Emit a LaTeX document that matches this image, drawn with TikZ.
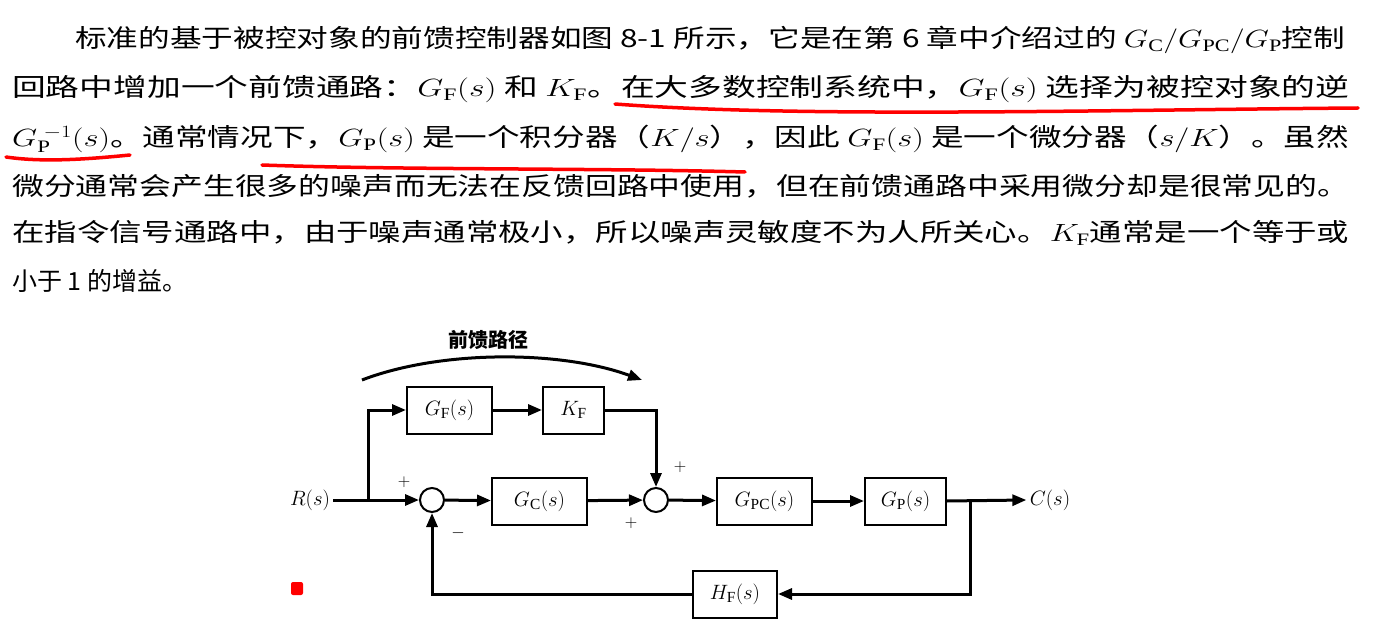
\documentclass[tikz,border=0pt]{standalone}
\usepackage{fontspec}
\setmainfont{Liberation Serif}
\newfontfamily\cjk{Noto Sans CJK SC}
\usepackage{graphicx}
\usetikzlibrary{arrows.meta}
\begin{document}
\begin{tikzpicture}[x=1pt,y=-1pt,
  txt/.style={anchor=west,inner sep=0pt,font=\fontsize{25}{25}\selectfont\cjk},
  blk/.style={draw,line width=2pt,minimum height=47pt,inner sep=0pt,font=\fontsize{22}{22}\selectfont},
  sum/.style={draw,circle,line width=2pt,minimum size=24pt,inner sep=0pt},
  sig/.style={line width=3pt,-{Triangle[length=14pt,width=11pt]}},
  ln/.style={line width=3pt},
  lab/.style={font=\fontsize{22}{22}\selectfont},
  pm/.style={font=\fontsize{16}{16}\selectfont,inner sep=0pt},
  redline/.style={draw=red,line width=3.5pt,line cap=round}]
\useasboundingbox[fill=white] (0,0) rectangle (1382,620);
% text
\node[txt] (l1) at (75,40) {\resizebox{1270pt}{\height}{标准的基于被控对象的前馈控制器如图 8-1 所示，它是在第 6 章中介绍过的 $G_{\mathrm C}/G_{\mathrm{PC}}/G_{\mathrm P}$控制}};
\node[txt] (l2) at (12,89) {\resizebox{1337pt}{\height}{回路中增加一个前馈通路：$G_{\mathrm F}(s)$ 和 $K_{\mathrm F}$。在大多数控制系统中，$G_{\mathrm F}(s)$ 选择为被控对象的逆}};
\node[txt] (l3) at (12,139) {\resizebox{1337pt}{\height}{$G_{\mathrm P}^{\;-1}(s)$。通常情况下，$G_{\mathrm P}(s)$ 是一个积分器（$K/s$），因此 $G_{\mathrm F}(s)$ 是一个微分器（$s/K$）。虽然}};
\node[txt] (l4) at (12,186) {\resizebox{1337pt}{\height}{微分通常会产生很多的噪声而无法在反馈回路中使用，但在前馈通路中采用微分却是很常见的。}};
\node[txt] (l5) at (12,233) {\resizebox{1337pt}{\height}{在指令信号通路中，由于噪声通常极小，所以噪声灵敏度不为人所关心。$K_{\mathrm F}$通常是一个等于或}};
\node[txt] (l6) at (12,281) {小于 1 的增益。};
% red marks
\draw[redline] (615,104) .. controls (800,118) and (1100,110) .. (1358,108);
\draw[redline] (6,157) .. controls (40,162) and (80,160) .. (130,155);
\draw[redline] (262,165) .. controls (400,170) and (600,168) .. (745,172);
\fill[red,rounded corners=2pt] (291,582) rectangle (303,595);
% diagram
\node[lab] (R) at (310,500) {$R(s)$};
\node[lab] (C) at (1050,500) {$C(s)$};
\node[blk,minimum width=85pt] (GF) at (449.5,410) {$G_{\mathrm F}(s)$};
\node[blk,minimum width=61pt] (KF) at (573.5,410) {$K_{\mathrm F}$};
\node[sum] (S1) at (432,500) {};
\node[blk,minimum width=95pt] (GC) at (539.5,501) {$G_{\mathrm C}(s)$};
\node[sum] (S2) at (656,500) {};
\node[blk,minimum width=95pt] (GPC) at (764.5,501) {$G_{\mathrm{PC}}(s)$};
\node[blk,minimum width=81pt] (GP) at (905.5,501) {$G_{\mathrm P}(s)$};
\node[blk,minimum width=84pt] (HF) at (735,594) {$H_{\mathrm F}(s)$};
\coordinate (B) at (368,500);
\coordinate (O) at (970,500);
\draw[ln] (R.east) -- (B);
\draw[sig] (B) -- (S1.west);
\draw[sig] (B) |- (GF.west);
\draw[sig] (GF) -- (KF);
\draw[sig] (KF.east) -| (S2.north);
\draw[sig] (S1) -- (GC);
\draw[sig] (GC) -- (S2);
\draw[sig] (S2) -- (GPC);
\draw[sig] (GPC) -- (GP);
\draw[sig] (GP.east) -- (C.west);
\draw[sig] (O) |- (HF.east);
\draw[sig] (HF.west) -| (S1.south);
\node[pm] (p1) at (404,482) {$+$};
\node[pm] (m1) at (458,533) {$-$};
\node[pm] (p2) at (680,467) {$+$};
\node[pm] (p3) at (631,523) {$+$};
\coordinate (a1) at (362,380);
\coordinate (a2) at (642,380);
\draw[line width=3pt,-{Triangle[length=14pt,width=11pt]}] (a1) .. controls (440,350) and (560,350) .. (a2);
\node[font=\fontsize{20}{20}\selectfont\cjk\bfseries] (ff) at (488,340) {前馈路径};
\end{tikzpicture}
\end{document}
